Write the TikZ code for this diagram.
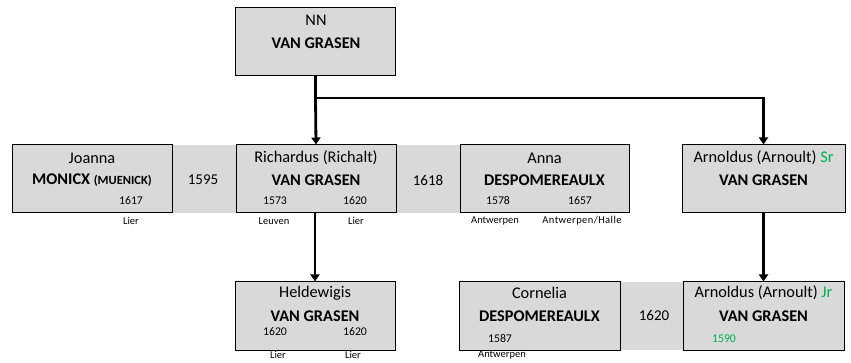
\documentclass[tikz,border=0pt]{standalone}
\usepackage{fontspec}
\setmainfont{Carlito}
\usetikzlibrary{arrows.meta}
\definecolor{boxgray}{HTML}{D9D9D9}
\definecolor{jrgreen}{HTML}{00B050}
\tikzset{
  person/.style={draw=black, line width=1pt, fill=boxgray, inner sep=0pt},
  band/.style={fill=boxgray, draw=none, inner sep=0pt},
  given/.style={font=\fontsize{16.3}{18}\selectfont, inner sep=0pt},
  surname/.style={font=\fontsize{16.3}{18}\selectfont\bfseries, inner sep=0pt},
  year/.style={font=\fontsize{11.8}{13}\selectfont, inner sep=0pt},
  marr/.style={font=\fontsize{15}{16}\selectfont, inner sep=0pt},
  place/.style={font=\fontsize{10.5}{12}\selectfont, inner sep=0pt},
  link/.style={line width=2.8pt, line cap=rect},
  arr/.style={line width=2.8pt, -{Triangle[length=7pt,width=9pt]}},
}
\begin{document}
\begin{tikzpicture}[x=1pt,y=-1pt]
\useasboundingbox (0,0) rectangle (851,363);
% bands
\node[band, minimum width=64pt, minimum height=68pt] (b1) at (204,179) {};
\node[band, minimum width=64pt, minimum height=68pt] (b2) at (428,179) {};
\node[band, minimum width=63pt, minimum height=68pt] (b3) at (651.5,316) {};
% boxes
\node[person, minimum width=160pt, minimum height=67.5pt] (nn) at (315.5,41.75) {};
\node[person, minimum width=160pt, minimum height=68pt] (jo) at (92,179) {};
\node[person, minimum width=160pt, minimum height=68pt] (ri) at (316,179) {};
\node[person, minimum width=169pt, minimum height=68pt] (an) at (544.5,179) {};
\node[person, minimum width=163pt, minimum height=68pt] (sr) at (763.5,179) {};
\node[person, minimum width=160pt, minimum height=68pt] (he) at (315,316) {};
\node[person, minimum width=161pt, minimum height=68pt] (co) at (539.5,316) {};
\node[person, minimum width=161pt, minimum height=68pt] (jr) at (763.5,316) {};
% NN
\node[given] (nnA) at (316,20) {NN};
\node[surname] (nnB) at (316,43) {VAN GRASEN};
% Joanna
\node[given] (joA) at (92,158) {Joanna};
\node[surname] (joB) at (92,180) {MONICX {\fontsize{12.5}{13}\selectfont(MUENICK)}};
\node[year] (joC) at (131,201) {1617};
\node[place] (joD) at (131,221) {Lier};
% marriage 1595
\node[marr] (m1) at (203,180) {1595};
% Richardus
\node[given] (riA) at (316,158) {Richardus (Richalt)};
\node[surname] (riB) at (316,180) {VAN GRASEN};
\node[year] (riC) at (275,201) {1573};
\node[year] (riD) at (355,201) {1620};
\node[place] (riE) at (274,221) {Leuven};
\node[place] (riF) at (356,221) {Lier};
% marriage 1618
\node[marr] (m2) at (428,180) {1618};
% Anna
\node[given] (anA) at (544.5,158) {Anna};
\node[surname] (anB) at (544.5,180) {DESPOMEREAULX};
\node[year] (anC) at (498,201) {1578};
\node[year] (anD) at (580,201) {1657};
\node[place] (anE) at (495,221) {Antwerpen};
\node[place, font=\fontsize{10.5}{12}\selectfont\addfontfeatures{LetterSpace=4}] (anF) at (582,221) {Antwerpen/Halle};
% Arnoldus Sr
\node[given] (srA) at (763.5,158) {Arnoldus (Arnoult) \textcolor{jrgreen}{Sr}};
\node[surname] (srB) at (763.5,180) {VAN GRASEN};
% Heldewigis
\node[given] (heA) at (315,293) {Heldewigis};
\node[surname] (heB) at (315,316) {VAN GRASEN};
\node[year] (heC) at (275,332) {1620};
\node[year] (heD) at (355,332) {1620};
\node[place] (heE) at (278,355) {Lier};
\node[place] (heF) at (353,355) {Lier};
% Cornelia
\node[given] (coA) at (539.5,293) {Cornelia};
\node[surname] (coB) at (539.5,316) {DESPOMEREAULX};
\node[year] (coC) at (500,339) {1587};
\node[place] (coD) at (502,355) {Antwerpen};
% marriage 1620
\node[marr] (m3) at (654,315) {1620};
% Arnoldus Jr
\node[given] (jrA) at (763.5,293) {Arnoldus (Arnoult) \textcolor{jrgreen}{Jr}};
\node[surname] (jrB) at (763.5,316) {VAN GRASEN};
\node[year, text=jrgreen] (jrC) at (724,339) {1590};
% connectors
\coordinate (j1) at (nn.south |- 0,98);
\coordinate (j2) at (sr.north |- 0,98);
\draw[link] (nn.south) -- (j1);
\draw[arr] (j1) -- (ri.north);
\draw[link] (j1) -- (j2);
\draw[arr] (j2) -- (sr.north);
\draw[arr] (ri.south -| he.north) -- (he.north);
\draw[arr] (sr.south) -- (sr.south |- jr.north);
\end{tikzpicture}
\end{document}
